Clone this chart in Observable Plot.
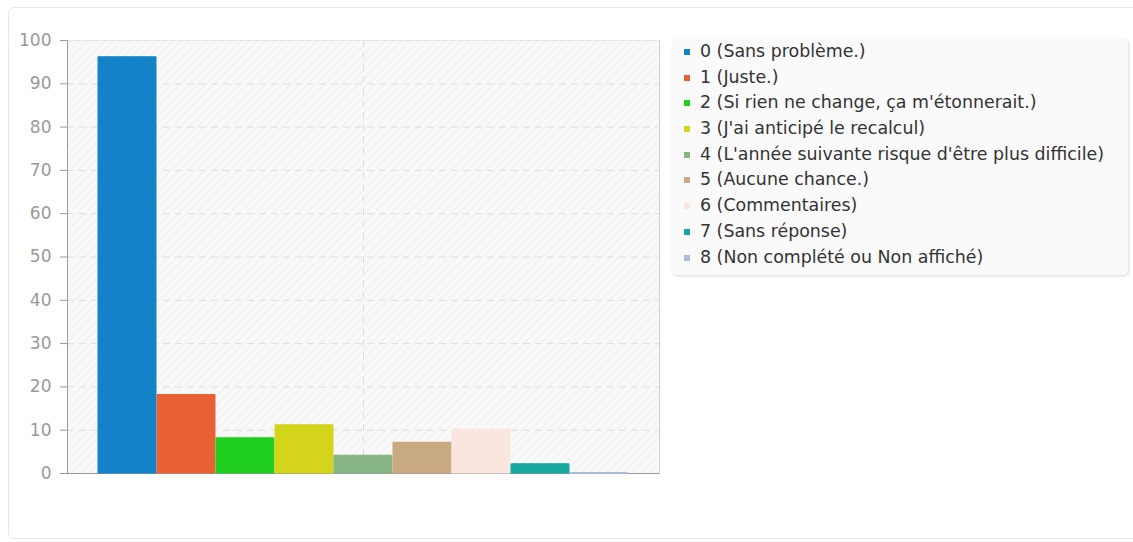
<!DOCTYPE html>
<html>
<head>
<meta charset="utf-8">
<script src="https://cdn.jsdelivr.net/npm/d3@7"></script>
<script src="https://cdn.jsdelivr.net/npm/@observablehq/plot@0.6"></script>
<style>
  html, body { margin: 0; padding: 0; background: #fff; width: 1133px; height: 542px; overflow: hidden; font-family: "DejaVu Sans", sans-serif; }
  #card { position: absolute; left: 8px; top: 7px; width: 1140px; height: 532px; border: 1px solid #e8e8e8; border-radius: 6px; box-sizing: border-box; }
  #chart { position: absolute; left: 0; top: 0; }
  #legend { position: absolute; left: 672px; top: 38px; width: 456px; height: 237px; box-sizing: border-box;
            background: #fafafa; border-radius: 5px; box-shadow: 1px 1px 3px rgba(0,0,0,0.15); padding-top: 1px; }
  .item { position: relative; height: 25.7px; line-height: 25.7px; font-size: 17.4px; color: #333; padding-left: 28px; white-space: nowrap; }
  .item .sw { position: absolute; left: 12px; top: 10px; width: 6px; height: 6px; }
</style>
</head>
<body>
<div id="card"></div>
<div id="chart"></div>
<div id="legend"></div>
<script>
const labels = [
  "0 (Sans problème.)",
  "1 (Juste.)",
  "2 (Si rien ne change, ça m'étonnerait.)",
  "3 (J'ai anticipé le recalcul)",
  "4 (L'année suivante risque d'être plus difficile)",
  "5 (Aucune chance.)",
  "6 (Commentaires)",
  "7 (Sans réponse)",
  "8 (Non complété ou Non affiché)"
];
const counts = [96, 18, 8, 11, 4, 7, 10, 2, 0];
const colors = ["#1482c8", "#e86135", "#21cf21", "#d4d41b", "#87b483", "#c8a982", "#fae6de", "#17a9a0", "#a9bcd9"];
const yTicks = [0, 10, 20, 30, 40, 50, 60, 70, 80, 90, 100];

const data = labels.map((l, i) => ({label: l, count: counts[i]}));

const plot = Plot.plot({
  width: 680,
  height: 542,
  marginLeft: 67,
  marginRight: 21,
  marginTop: 40,
  marginBottom: 69,
  style: {fontFamily: "DejaVu Sans, sans-serif", fontSize: "17px", background: "transparent"},
  x: {domain: labels, paddingInner: 0, paddingOuter: 0.517, round: false, axis: null},
  y: {domain: [0, 100], ticks: yTicks, label: null},
  color: {domain: labels, range: colors},
  marks: [
    Plot.frame({fill: "url(#hatch)", stroke: null}),
    Plot.gridY(yTicks.filter(d => d > 0 && d < 100), {stroke: "#dedede", strokeOpacity: 1, strokeDasharray: "7,5"}),
    Plot.ruleX([labels[4]], {stroke: "#dedede", strokeDasharray: "7,5"}),
    Plot.frame({anchor: "top", stroke: "#e6e6e6"}),
    Plot.frame({anchor: "right", stroke: "#cfcfcf"}),
    Plot.frame({anchor: "left", stroke: "#999"}),
    Plot.ruleY([0], {stroke: "#999", insetLeft: -7}),
    Plot.barY(data, {x: "label", y: "count", fill: "label", stroke: "label", strokeOpacity: 1, insetLeft: 0.5, insetRight: 0.5}),
    Plot.tickY(data, {x: "label", y: "count", stroke: "label", strokeWidth: 2, insetLeft: 0.5, insetRight: 0.5, dy: -0.5}),
    Plot.axisY({ticks: yTicks, tickSize: 7, tickPadding: 9, stroke: "#999", color: "#999", fill: "#999", label: null})
  ]
});

// hatch pattern
const defs = document.createElementNS("http://www.w3.org/2000/svg", "defs");
defs.innerHTML = `<pattern id="hatch" patternUnits="userSpaceOnUse" width="6" height="6" patternTransform="rotate(45)">
  <rect width="6" height="6" fill="#f9f9f9"/>
  <line x1="0" y1="0" x2="0" y2="6" stroke="#efefef" stroke-width="2"/>
</pattern>`;
plot.insertBefore(defs, plot.firstChild);
document.getElementById("chart").appendChild(plot);

const legend = document.getElementById("legend");
labels.forEach((l, i) => {
  const div = document.createElement("div");
  div.className = "item";
  div.innerHTML = `<span class="sw" style="background:${colors[i]}"></span>`;
  div.appendChild(document.createTextNode(l));
  legend.appendChild(div);
});
</script>
</body>
</html>
